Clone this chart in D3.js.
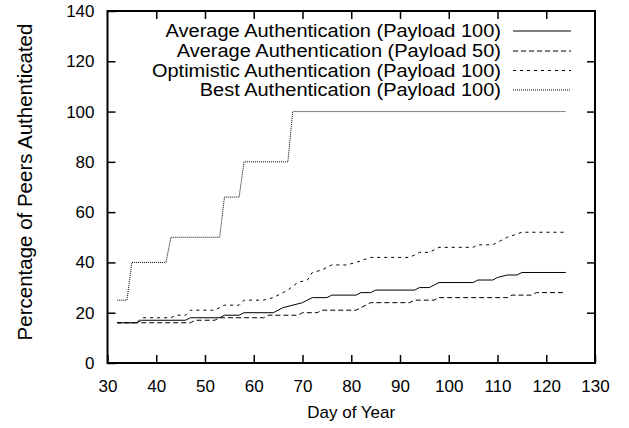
<!DOCTYPE html>
<html>
<head>
<meta charset="utf-8">
<script src="https://d3js.org/d3.v7.min.js"></script>
<style>
  body { margin: 0; background: #fff; }
  svg text { font-family: "Liberation Sans", Arial, Helvetica, sans-serif; fill: #000; }
</style>
</head>
<body>
<div id="chart"></div>
<script>
// day of year / percentage pairs
const avg100Days = [32,36,37,46,47,53,54,57,58,64,65,66,68,70,72,75,76,81,82,84,85,93,94,96,98,105,106,109,110,112,114,115,124];
const avg100Vals = [16,16,17,17,18,18,19,19,20,20,21,22,23,24,26,26,27,27,28,28,29,29,30,30,32,32,33,33,34,35,35,36,36];

const avg50Days = [32,47,48,52,53,62,63,69,70,73,74,81,82,83,84,92,93,97,98,112,113,117,118,124];
const avg50Vals = [16,16,17,17,18,18,19,19,20,20,21,21,22,23,24,24,25,25,26,26,27,27,28,28];

const optDays = [32,36,37,43,44,46,47,52,54,57,58,62,64,66,67,69,71,72,74,75,76,79,81,84,92,94,96,98,105,106,109,110,111,112,115,124];
const optVals = [16,16,18,18,19,19,21,21,23,23,25,25,26,28,29,32,33,36,37,38,39,39,40,42,42,44,44,46,46,47,47,48,49,50,52,52];

const bestDays = [32,34,35,42,43,53,54,57,58,67,68,124];
const bestVals = [25,25,40,40,50,50,66,66,80,80,100,100];

const seriesNames = [
  "Average Authentication (Payload 100)",
  "Average Authentication (Payload 50)",
  "Optimistic Authentication (Payload 100)",
  "Best Authentication (Payload 100)"
];
const xTicks = [30,40,50,60,70,80,90,100,110,120,130];
const yTicks = [0,20,40,60,80,100,120,140];

const width = 629, height = 428;
const margin = {left: 107.5, right: 34, top: 11, bottom: 65};

const svg = d3.select("#chart").append("svg")
    .attr("width", width)
    .attr("height", height);

const x = d3.scaleLinear().domain([30,130]).range([margin.left, width - margin.right]);
const y = d3.scaleLinear().domain([0,140]).range([height - margin.bottom, margin.top]);

const dashes = ["none", "5,3", "3,4", "1,1"];
const series = [
  {days: avg100Days, vals: avg100Vals},
  {days: avg50Days, vals: avg50Vals},
  {days: optDays, vals: optVals},
  {days: bestDays, vals: bestVals}
];

// axes, ticks pointing inward on all four sides
const tickLen = 8;
svg.append("g")
    .attr("transform", `translate(0,${y(0)})`)
    .call(d3.axisBottom(x).tickValues(xTicks).tickSize(-tickLen).tickPadding(17).tickFormat(d3.format("d")))
    .call(g => g.select(".domain").remove());
svg.append("g")
    .attr("transform", `translate(0,${y(140)})`)
    .call(d3.axisTop(x).tickValues(xTicks.slice(1,-1)).tickSize(-tickLen).tickFormat(""))
    .call(g => g.select(".domain").remove());
svg.append("g")
    .attr("transform", `translate(${x(30)},0)`)
    .call(d3.axisLeft(y).tickValues(yTicks).tickSize(-tickLen).tickPadding(13).tickFormat(d3.format("d")))
    .call(g => g.select(".domain").remove());
svg.append("g")
    .attr("transform", `translate(${x(130)},0)`)
    .call(d3.axisRight(y).tickValues(yTicks.slice(1,-1)).tickSize(-tickLen).tickFormat(""))
    .call(g => g.select(".domain").remove());

svg.selectAll(".tick line").attr("stroke", "#000").attr("stroke-width", 1.5);
svg.selectAll(".tick text").style("font-size", "17px").attr("fill", "#000");

svg.append("rect")
    .attr("x", x(30)).attr("y", y(140))
    .attr("width", x(130) - x(30)).attr("height", y(0) - y(140))
    .attr("fill", "none").attr("stroke", "#000").attr("stroke-width", 2);

// data lines
const line = d3.line().x(d => x(d[0])).y(d => y(d[1]));
series.forEach((s, i) => {
  const pts = s.days.map((d, j) => [d, s.vals[j]]);
  svg.append("path")
      .datum(pts)
      .attr("d", line)
      .attr("fill", "none")
      .attr("stroke", "#000")
      .attr("stroke-width", 1)
      .attr("stroke-dasharray", dashes[i]);
});

// legend: lines sit close together, so glyphs are a bit narrower and stretched to the reference width
const legendY = [31, 51, 70.5, 90];
const legend = svg.append("g");
seriesNames.forEach((name, i) => {
  const t = legend.append("text")
      .attr("x", 501).attr("y", legendY[i])
      .attr("dy", "0.35em")
      .attr("text-anchor", "end")
      .style("font-size", "20px")
      .text(name);
  const w = t.node().getComputedTextLength();
  t.style("font-size", "17.5px")
      .attr("textLength", w)
      .attr("lengthAdjust", "spacingAndGlyphs");
  legend.append("line")
      .attr("x1", 513).attr("x2", 571)
      .attr("y1", legendY[i]).attr("y2", legendY[i])
      .attr("stroke", "#000").attr("stroke-width", 1)
      .attr("stroke-dasharray", dashes[i]);
});

// axis titles
svg.append("text")
    .attr("x", (x(30) + x(130)) / 2).attr("y", 418)
    .attr("text-anchor", "middle")
    .style("font-size", "17px")
    .text("Day of Year");
svg.append("text")
    .attr("transform", "translate(32,182) rotate(-90)")
    .attr("text-anchor", "middle")
    .style("font-size", "20.5px")
    .text("Percentage of Peers Authenticated");
</script>
</body>
</html>
